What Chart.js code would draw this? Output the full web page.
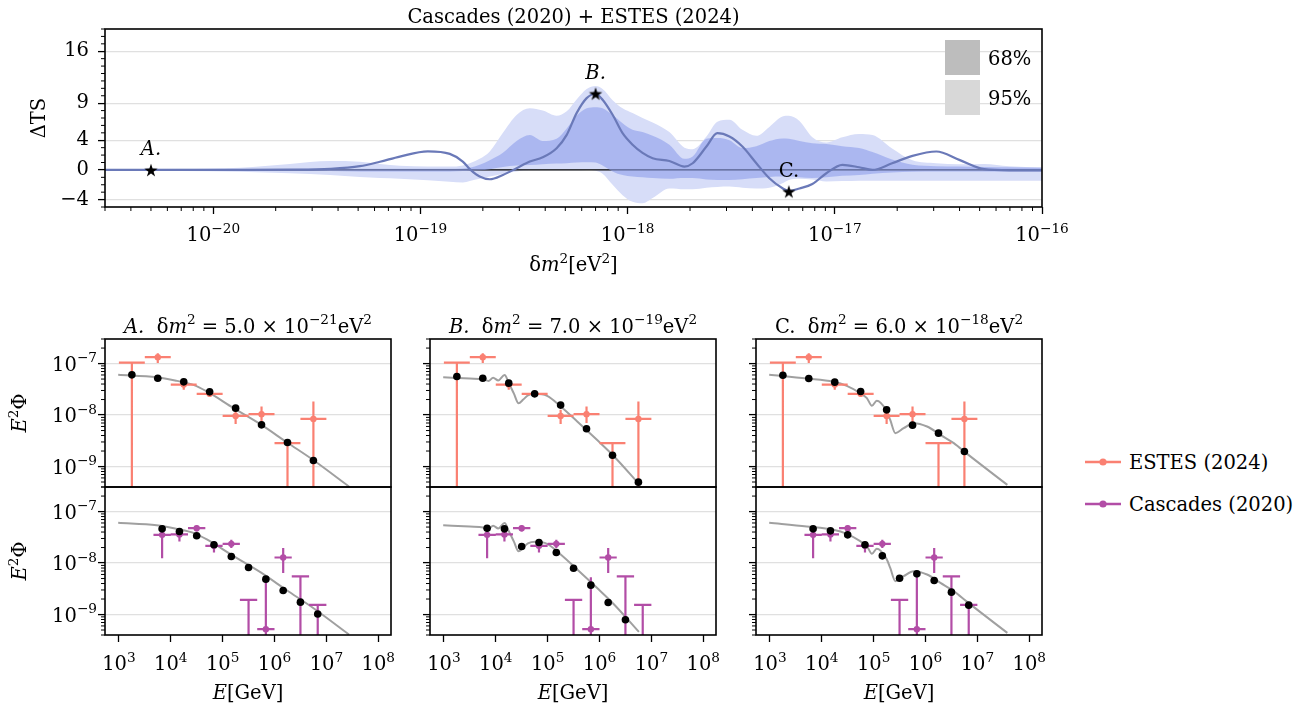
<!DOCTYPE html>
<html>
<head>
<meta charset="utf-8">
<script src="https://cdn.jsdelivr.net/npm/chart.js@4.4.1/dist/chart.umd.min.js"></script>
<style>
html, body { margin: 0; padding: 0; background: #fff; }
body { width: 1312px; height: 706px; position: relative; overflow: hidden; font-family: "DejaVu Serif", serif; }
canvas { position: absolute; }
.leg { position: absolute; left: 1085px; font-size: 19.5px; line-height: 24px; white-space: nowrap; }
.leg svg { vertical-align: middle; margin-right: 8px; position: relative; top: -2px; }
</style>
</head>
<body>
<canvas id="topc" width="1100" height="290" style="left:0;top:0"></canvas>
<div class="leg" style="top:451px"><svg width="36" height="12"><line x1="0" y1="6" x2="36" y2="6" stroke="#fa8072" stroke-width="2.5"/><circle cx="18" cy="6" r="3.6" fill="#fa8072"/></svg>ESTES (2024)</div>
<div class="leg" style="top:493px"><svg width="36" height="12"><line x1="0" y1="6" x2="36" y2="6" stroke="#b24da6" stroke-width="2.5"/><circle cx="18" cy="6" r="3.6" fill="#b24da6"/></svg>Cascades (2020)</div>
<script>
// ---- top panel: delta TS scan ----
const dm2 = [3.0e-21, 6.9e-21, 1.35e-20, 2.34e-20, 3.66e-20, 5.1e-20, 6.37e-20, 7.95e-20, 1.085e-19, 1.385e-19,
  1.6e-19, 1.73e-19, 1.93e-19, 2.16e-19, 2.5e-19, 2.91e-19, 3.37e-19, 3.89e-19, 4.54e-19, 5.08e-19,
  5.67e-19, 6.34e-19, 7.0e-19, 7.57e-19, 8.46e-19, 9.45e-19, 1.056e-18, 1.18e-18, 1.32e-18, 1.59e-18,
  1.88e-18, 2.06e-18, 2.4e-18, 2.71e-18, 3.1e-18, 3.58e-18, 4.18e-18, 4.83e-18, 5.59e-18, 6.0e-18,
  6.75e-18, 7.79e-18, 9.1e-18, 1.087e-17, 1.31e-17, 1.52e-17, 1.89e-17, 2.37e-17, 3.09e-17, 3.99e-17,
  5.26e-17, 6.94e-17, 1.0e-16];
const tsCentral = [0, 0, 0, 0.03, 0.15, 0.5, 1.1, 1.8, 2.5, 2.16,
  1.13, 0.1, -0.9, -1.26, -0.68, 0.23, 1.13, 1.7, 2.93, 4.73,
  7.66, 9.68, 10.27, 9.46, 7.43, 4.95, 3.4, 2.3, 1.58, 1.2,
  0.45, 0.9, 3.15, 4.95, 4.5, 3.15, 0.9, -1.13, -2.48, -2.85,
  -2.5, -1.9, -0.45, 0.68, 0.36, 0.0, 0.9, 1.9, 2.48, 1.35,
  0.1, -0.05, -0.05];
const up68 = [0.08, 0.08, 0.1, 0.12, 0.15, 0.15, 0.15, 0.15, 0.15, 0.15,
  0.2, 0.3, 0.7, 1.3, 2.3, 3.9, 4.7, 3.9, 4.2, 5.6,
  7.3, 8.3, 8.45, 8.3, 7.4, 6.3, 5.4, 5.1, 4.6, 3.4,
  1.5, 1.8, 4.2, 4.3, 4.0, 2.95, 3.2, 3.9, 4.25, 4.2,
  3.9, 3.6, 3.5, 3.2, 2.95, 2.4, 1.4, 0.7, 0.5, 0.45,
  0.4, 0.35, 0.3];
const lo68 = [-0.08, -0.08, -0.1, -0.12, -0.15, -0.2, -0.2, -0.2, -0.2, -0.2,
  -0.15, -0.1, -0.05, 0.1, 0.4, 0.6, 0.65, 0.75, 0.85, 0.9,
  1.0, 1.05, 1.0, 0.6, -0.2, -0.7, -0.9, -1.0, -1.1, -1.2,
  -1.1, -1.1, -1.3, -1.35, -1.35, -1.25, -1.1, -0.95, -0.9, -0.9,
  -1.0, -1.1, -1.0, -0.8, -0.7, -0.5, -0.35, -0.25, -0.2, -0.2,
  -0.2, -0.2, -0.2];
const up95 = [0.12, 0.15, 0.3, 0.8, 1.2, 1.1, 0.8, 0.55, 0.45, 0.45,
  0.6, 0.9, 1.5, 2.5, 5.0, 7.4, 8.3, 8.0, 7.3, 7.9,
  9.5, 10.9, 11.3, 10.9, 9.4, 8.3, 7.66, 7.0, 6.4, 5.1,
  3.0, 2.8, 4.5, 6.5, 6.76, 5.4, 4.6, 5.8, 7.2, 7.3,
  6.6, 4.4, 3.7, 4.4, 4.85, 4.7, 2.9, 1.3, 0.9, 0.75,
  0.8, 0.5, 0.35];
const lo95 = [-0.12, -0.15, -0.25, -0.45, -0.7, -0.95, -1.1, -1.2, -1.4, -1.6,
  -1.7, -1.5, -1.2, -0.9, -0.5, -0.2, -0.05, -0.05, -0.05, -0.05,
  -0.05, 0.0, -0.1, -0.5, -2.0, -3.4, -4.3, -4.5, -3.8, -2.5,
  -2.6, -2.6, -2.4, -2.3, -2.25, -2.4, -2.5, -2.4, -1.8, -1.35,
  -1.2, -1.3, -1.55, -1.5, -1.45, -1.45, -1.45, -1.45, -1.45, -1.45,
  -1.45, -1.45, -1.45];
const starNames = ['A.', 'B.', 'C.'];
const starDm = [5.0e-21, 7.0e-19, 6.0e-18];
const starTS = [0, 10.3, -2.9];
const starExp = ['−21', '−19', '−18'];
const starMant = ['5.0', '7.0', '6.0'];
const tsTicks = [-4, 0, 4, 9, 16];
const dmTicks = [1e-20, 1e-19, 1e-18, 1e-17, 1e-16];
const dmTickExp = ['−20', '−19', '−18', '−17', '−16'];

// ---- bottom panels: spectra ----
const estesE   = [1.78e3, 5.62e3, 1.78e4, 5.62e4, 1.78e5, 5.62e5, 1.78e6, 5.62e6];
const estesElo = [1.0e3, 3.16e3, 1.0e4, 3.16e4, 1.0e5, 3.16e5, 1.0e6, 3.16e6];
const estesEhi = [3.16e3, 1.0e4, 3.16e4, 1.0e5, 3.16e5, 1.0e6, 3.16e6, 1.0e7];
const estesFlux = [1.04e-7, 1.33e-7, 3.9e-8, 2.58e-8, 9.6e-9, 1.04e-8, 2.84e-9, 8.4e-9];
const estesLo   = [1e-10, 1.02e-7, 3.1e-8, 2.23e-8, 6.7e-9, 6.97e-9, 1e-10, 1e-10];
const estesHi   = [1.04e-7, 1.59e-7, 4.5e-8, 3.0e-8, 1.26e-8, 1.46e-8, 2.84e-9, 1.83e-8];
const estesUL   = [true, false, false, false, false, false, true, false];

const cascE   = [6.81e3, 1.47e4, 3.16e4, 6.81e4, 1.47e5, 3.16e5, 6.81e5, 1.47e6, 3.16e6, 6.81e6];
const cascElo = [4.64e3, 1.0e4, 2.15e4, 4.64e4, 1.0e5, 2.15e5, 4.64e5, 1.0e6, 2.15e6, 4.64e6];
const cascEhi = [1.0e4, 2.15e4, 4.64e4, 1.0e5, 2.15e5, 4.64e5, 1.0e6, 2.15e6, 4.64e6, 1.0e7];
const cascFlux = [3.53e-8, 3.6e-8, 4.75e-8, 2.16e-8, 2.36e-8, 1.93e-9, 5.2e-10, 1.28e-8, 5.5e-9, 1.54e-9];
const cascLo   = [1.24e-8, 2.62e-8, 4.1e-8, 1.6e-8, 1.95e-8, 1e-10, 1e-10, 6.4e-9, 1e-10, 1e-10];
const cascHi   = [4.42e-8, 4.3e-8, 5.36e-8, 2.62e-8, 2.82e-8, 1.93e-9, 5.3e-9, 1.95e-8, 5.5e-9, 1.54e-9];
const cascUL   = [false, false, false, false, false, true, false, false, true, true];

const modelEstes = [
  [6.04e-8, 5.2e-8, 4.41e-8, 2.82e-8, 1.36e-8, 6.45e-9, 2.93e-9, 1.31e-9],
  [5.6e-8, 5.2e-8, 4.16e-8, 2.58e-8, 1.56e-8, 5.4e-9, 1.66e-9, 4.97e-10],
  [5.94e-8, 5.13e-8, 4.35e-8, 2.86e-8, 1.26e-8, 6.36e-9, 4.45e-9, 1.96e-9]];
const modelCasc = [
  [4.61e-8, 4.1e-8, 3.38e-8, 2.26e-8, 1.34e-8, 8.2e-9, 4.86e-9, 2.93e-9, 1.74e-9, 1.02e-9],
  [4.75e-8, 4.61e-8, 2.1e-8, 2.5e-8, 1.6e-8, 7.9e-9, 3.72e-9, 1.71e-9, 7.9e-10, null],
  [4.61e-8, 4.22e-8, 3.53e-8, 2.26e-8, 1.38e-8, 5.08e-9, 6.17e-9, 4.58e-9, 2.72e-9, 1.52e-9]];
const curveE = [
  [970, 5360, 1.31e4, 2.74e4, 4.97e4, 1.63e5, 5.33e5, 1.75e6, 5.74e6, 2.72e7],
  [970, 3160, 5750, 7240, 8910, 1.12e4, 1.48e4, 1.78e4, 2.24e4, 2.75e4, 3.39e4, 4.17e4, 5.75e4, 9.77e4, 1.74e5, 3.72e5, 8.91e5, 1.91e6, 5.75e6],
  [970, 5130, 1.68e4, 3.04e4, 5.51e4, 7.41e4, 9.27e4, 1.15e5, 1.73e5, 2.09e5, 2.62e5, 3.79e5, 5.93e5, 1.07e6, 1.94e6, 3.51e6, 6.35e6, 3.78e7]];
const curveF = [
  [6.04e-8, 5.43e-8, 4.61e-8, 3.86e-8, 2.87e-8, 1.36e-8, 6.65e-9, 2.93e-9, 1.31e-9, 4.09e-10],
  [5.43e-8, 5.1e-8, 4.9e-8, 4.6e-8, 5.3e-8, 4.7e-8, 6.0e-8, 4.2e-8, 2.6e-8, 1.7e-8, 2.0e-8, 2.4e-8, 2.58e-8, 2.35e-8, 1.5e-8, 7.5e-9, 3.3e-9, 1.57e-9, 4.6e-10],
  [6.04e-8, 5.13e-8, 4.44e-8, 3.69e-8, 2.66e-8, 2.13e-8, 1.51e-8, 1.9e-8, 1.26e-8, 8.05e-9, 4.45e-9, 5.56e-9, 6.95e-9, 5.98e-9, 4.12e-9, 2.84e-9, 1.76e-9, 4.4e-10]];
const eTicks = [1e3, 1e4, 1e5, 1e6, 1e7, 1e8];
const eTickExp = ['3', '4', '5', '6', '7', '8'];
const fluxTicks = [1e-9, 1e-8, 1e-7];
const fluxTickExp = ['−9', '−8', '−7'];

const FONT = '"DejaVu Serif", "Liberation Serif", serif';
const FS = 19.5;
const SALMON = '#fa8072', PURPLE = '#b24da6';

// minor tick positions
const dmMinor = [3e-21];
for (let e = -21; e <= -17; e++) for (let m = 2; m <= 9; m++) if (m * Math.pow(10, e) > 3e-21) dmMinor.push(m * Math.pow(10, e));
const tsMinor = [];
for (let v = -5; v <= 19; v++) if (!tsTicks.includes(v)) tsMinor.push(v);
const fluxMinor = [];
for (let e = -10; e <= -7; e++) for (let m = 2; m <= 9; m++) { const v = m * Math.pow(10, e); if (v >= 4e-10 && v <= 3e-7) fluxMinor.push(v); }

function pts(xs, ys) { return xs.map((x, i) => ({ x: x, y: ys[i] })); }

function drawRich(ctx, parts, x, y, size, align) {
  const fonts = parts.map(p => {
    const fl = p[1] || '';
    const fs = fl.includes('s') ? size * 0.7 : size;
    return { f: (fl.includes('i') ? 'italic ' : '') + fs + 'px ' + FONT, dy: fl.includes('s') ? -size * 0.42 : 0 };
  });
  let w = 0;
  parts.forEach((p, i) => { ctx.font = fonts[i].f; w += ctx.measureText(p[0]).width; });
  let cx = align === 'center' ? x - w / 2 : (align === 'right' ? x - w : x);
  ctx.textAlign = 'left';
  ctx.textBaseline = 'alphabetic';
  ctx.fillStyle = '#000';
  parts.forEach((p, i) => { ctx.font = fonts[i].f; ctx.fillText(p[0], cx, y + fonts[i].dy); cx += ctx.measureText(p[0]).width; });
}

function drawRotated(ctx, parts, x, y, size) {
  ctx.save();
  ctx.translate(x, y);
  ctx.rotate(-Math.PI / 2);
  drawRich(ctx, parts, 0, 0, size, 'center');
  ctx.restore();
}

function frame(chart) {
  const { ctx, chartArea: a } = chart;
  ctx.save();
  ctx.strokeStyle = '#000';
  ctx.lineWidth = 1.6;
  ctx.strokeRect(a.left, a.top, a.right - a.left, a.bottom - a.top);
  ctx.restore();
}

function minorTicks(chart, xs, ys) {
  const { ctx, chartArea: a, scales } = chart;
  ctx.save();
  ctx.strokeStyle = '#000';
  ctx.lineWidth = 1;
  ctx.beginPath();
  ys.forEach(v => { const p = scales.y.getPixelForValue(v); ctx.moveTo(a.left - 4, p); ctx.lineTo(a.left, p); });
  xs.forEach(v => { const p = scales.x.getPixelForValue(v); ctx.moveTo(p, a.bottom); ctx.lineTo(p, a.bottom + 4); });
  ctx.stroke();
  ctx.restore();
}

function drawErrors(chart, E, Elo, Ehi, F, Flo, Fhi, color) {
  const { ctx, chartArea: a, scales: { x, y } } = chart;
  ctx.save();
  ctx.beginPath();
  ctx.rect(a.left, a.top, a.right - a.left, a.bottom - a.top);
  ctx.clip();
  ctx.strokeStyle = color;
  ctx.lineWidth = 2.2;
  ctx.beginPath();
  for (let i = 0; i < E.length; i++) {
    const px = x.getPixelForValue(E[i]), py = y.getPixelForValue(F[i]);
    ctx.moveTo(x.getPixelForValue(Elo[i]), py);
    ctx.lineTo(x.getPixelForValue(Ehi[i]), py);
    ctx.moveTo(px, y.getPixelForValue(Fhi[i]));
    ctx.lineTo(px, y.getPixelForValue(Flo[i]));
  }
  ctx.stroke();
  ctx.restore();
}

// star marker
const starImg = document.createElement('canvas');
starImg.width = 18; starImg.height = 18;
(function () {
  const g = starImg.getContext('2d');
  g.fillStyle = '#000';
  g.beginPath();
  for (let k = 0; k < 10; k++) {
    const r = k % 2 ? 2.7 : 7.0, ang = -Math.PI / 2 + k * Math.PI / 5;
    g.lineTo(9 + r * Math.cos(ang), 9.8 + r * Math.sin(ang));
  }
  g.closePath();
  g.fill();
})();

const tickGrid = { tickLength: 7, tickWidth: 1.3, tickColor: '#000' };

// ---------- top chart ----------
new Chart(document.getElementById('topc'), {
  type: 'line',
  data: {
    datasets: [
      { data: pts(starDm, starTS), showLine: false, pointStyle: starImg, pointRadius: 8, clip: false },
      { data: pts(dm2, tsCentral), borderColor: '#6a79b8', borderWidth: 2.2, pointRadius: 0, cubicInterpolationMode: 'monotone' },
      { data: pts(dm2, up68), borderColor: 'transparent', borderWidth: 0, pointRadius: 0, backgroundColor: 'rgba(141,159,235,0.6)', fill: '+1', cubicInterpolationMode: 'monotone' },
      { data: pts(dm2, lo68), borderColor: 'transparent', borderWidth: 0, pointRadius: 0, cubicInterpolationMode: 'monotone' },
      { data: [{ x: 3e-21, y: 0 }, { x: 1e-16, y: 0 }], borderColor: '#000', borderWidth: 1.3, pointRadius: 0 },
      { data: pts(dm2, up95), borderColor: 'transparent', borderWidth: 0, pointRadius: 0, backgroundColor: '#d7ddf8', fill: '+1', cubicInterpolationMode: 'monotone' },
      { data: pts(dm2, lo95), borderColor: 'transparent', borderWidth: 0, pointRadius: 0, cubicInterpolationMode: 'monotone' }
    ]
  },
  options: {
    responsive: false, animation: false, devicePixelRatio: 1, events: [],
    layout: { padding: { left: 0, top: 29, right: 58, bottom: 0 } },
    plugins: { legend: { display: false }, tooltip: { enabled: false } },
    scales: {
      x: {
        type: 'logarithmic', min: 3e-21, max: 1e-16,
        afterBuildTicks: s => { s.ticks = dmTicks.map(v => ({ value: v })); },
        afterFit: s => { s.height = 83; },
        ticks: { display: false },
        grid: Object.assign({ drawOnChartArea: false }, tickGrid),
        border: { display: false }
      },
      y: {
        type: 'linear', min: -5, max: 19,
        afterBuildTicks: s => { s.ticks = tsTicks.map(v => ({ value: v })); },
        afterFit: s => { s.width = 105; },
        ticks: { autoSkip: false, padding: 9, color: '#000', font: { family: FONT, size: FS },
          callback: v => (v < 0 ? '−' + Math.abs(v) : String(v)) },
        grid: Object.assign({ color: '#e0e0e0', lineWidth: 1.2 }, tickGrid),
        border: { display: false }
      }
    }
  },
  plugins: [{
    id: 'topDeco',
    afterDraw(chart) {
      const { ctx, chartArea: a, scales } = chart;
      frame(chart);
      minorTicks(chart, dmMinor, tsMinor);
      const cx = (a.left + a.right) / 2;
      drawRich(ctx, [['Cascades (2020) + ESTES (2024)']], cx, 23, FS, 'center');
      dmTicks.forEach((v, i) => drawRich(ctx, [['10'], [dmTickExp[i], 's']], scales.x.getPixelForValue(v), a.bottom + 34, FS, 'center'));
      drawRich(ctx, [['δ'], ['m', 'i'], ['2', 's'], ['[eV'], ['2', 's'], [']']], cx, 271, FS, 'center');
      drawRotated(ctx, [['ΔTS']], 45, (a.top + a.bottom) / 2, FS);
      starDm.forEach((d, i) => {
        const px = scales.x.getPixelForValue(d), py = scales.y.getPixelForValue(starTS[i]);
        drawRich(ctx, [[starNames[i], i < 2 ? 'i' : '']], px, py - 14.5, FS, 'center');
      });
      // band legend
      ctx.fillStyle = '#bdbdbd';
      ctx.fillRect(a.right - 97, a.top + 11, 35, 35);
      ctx.fillStyle = '#d8d8d8';
      ctx.fillRect(a.right - 97, a.top + 51, 35, 35);
      drawRich(ctx, [['68%']], a.right - 54, a.top + 36, FS, 'left');
      drawRich(ctx, [['95%']], a.right - 54, a.top + 76, FS, 'left');
    }
  }]
});

// ---------- small spectrum panels ----------
const colLeft = [105, 430, 756];
const colRight = [391, 716, 1042];
const colTitles = starNames.map((n, i) => [[n, i < 2 ? 'i' : ''], ['  δ'], ['m', 'i'], ['2', 's'], [' = ' + starMant[i] + ' × 10'], [starExp[i], 's'], ['eV'], ['2', 's']]);

function smallChart(col, row) {
  const upper = row === 0;
  const L = colLeft[col], R = colRight[col];
  const cv = document.createElement('canvas');
  cv.width = (R - L) + 110;
  cv.height = upper ? 187 : 224;
  cv.style.left = (L - 100) + 'px';
  cv.style.top = (upper ? 305 : 482) + 'px';
  document.body.appendChild(cv);

  const E = upper ? estesE : cascE;
  const model = upper ? modelEstes[col] : modelCasc[col];
  const flux = upper ? estesFlux : cascFlux;
  const ul = upper ? estesUL : cascUL;
  const color = upper ? SALMON : PURPLE;

  new Chart(cv, {
    type: 'scatter',
    data: {
      datasets: [
        { data: pts(E, model), pointRadius: 3.8, pointBackgroundColor: '#000', pointBorderWidth: 0, clip: 0 },
        { data: pts(E, flux), pointRadius: ul.map(u => (u ? 0 : 3.2)), pointBackgroundColor: color, pointBorderWidth: 0, clip: 0 },
        { data: pts(curveE[col], curveF[col]), showLine: true, borderColor: '#a0a0a0', borderWidth: 2, pointRadius: 0, cubicInterpolationMode: 'monotone', clip: 0 }
      ]
    },
    options: {
      responsive: false, animation: false, devicePixelRatio: 1, events: [],
      layout: { padding: { left: 0, right: 10, top: upper ? 34 : 5, bottom: 0 } },
      plugins: { legend: { display: false }, tooltip: { enabled: false } },
      scales: {
        x: {
          type: 'logarithmic', min: 540, max: 1.76e8,
          afterBuildTicks: s => { s.ticks = eTicks.map(v => ({ value: v })); },
          afterFit: s => { s.height = upper ? 5 : 71; },
          ticks: { display: false },
          grid: Object.assign({ drawOnChartArea: false }, tickGrid, { drawTicks: !upper }),
          border: { display: false }
        },
        y: {
          type: 'logarithmic', min: 4e-10, max: 3e-7,
          afterBuildTicks: s => { s.ticks = fluxTicks.map(v => ({ value: v })); },
          afterFit: s => { s.width = 100; },
          ticks: { display: false },
          grid: Object.assign({ color: '#e0e0e0', lineWidth: 1.2 }, tickGrid),
          border: { display: false }
        }
      }
    },
    plugins: [{
      id: 'errs',
      afterDatasetDraw(chart, args) {
        if (args.index !== 1) return;
        if (upper) drawErrors(chart, estesE, estesElo, estesEhi, estesFlux, estesLo, estesHi, SALMON);
        else drawErrors(chart, cascE, cascElo, cascEhi, cascFlux, cascLo, cascHi, PURPLE);
      }
    }, {
      id: 'smallDeco',
      afterDraw(chart) {
        const { ctx, chartArea: a, scales } = chart;
        frame(chart);
        minorTicks(chart, [], fluxMinor);
        const cx = (a.left + a.right) / 2;
        if (col === 0) {
          fluxTicks.forEach((v, i) => drawRich(ctx, [['10'], [fluxTickExp[i], 's']], a.left - 8, scales.y.getPixelForValue(v) + 7, FS, 'right'));
          drawRotated(ctx, [['E', 'i'], ['2', 's'], ['Φ']], 21, (a.top + a.bottom) / 2, FS);
        }
        if (upper) {
          drawRich(ctx, colTitles[col], cx, a.top - 6.5, FS, 'center');
        } else {
          eTicks.forEach((v, i) => drawRich(ctx, [['10'], [eTickExp[i], 's']], scales.x.getPixelForValue(v), a.bottom + 35, FS, 'center'));
          drawRich(ctx, [['E', 'i'], ['[GeV]']], cx, a.bottom + 64, FS, 'center');
        }
      }
    }]
  });
}

for (let c = 0; c < 3; c++) { smallChart(c, 0); smallChart(c, 1); }
</script>
</body>
</html>
